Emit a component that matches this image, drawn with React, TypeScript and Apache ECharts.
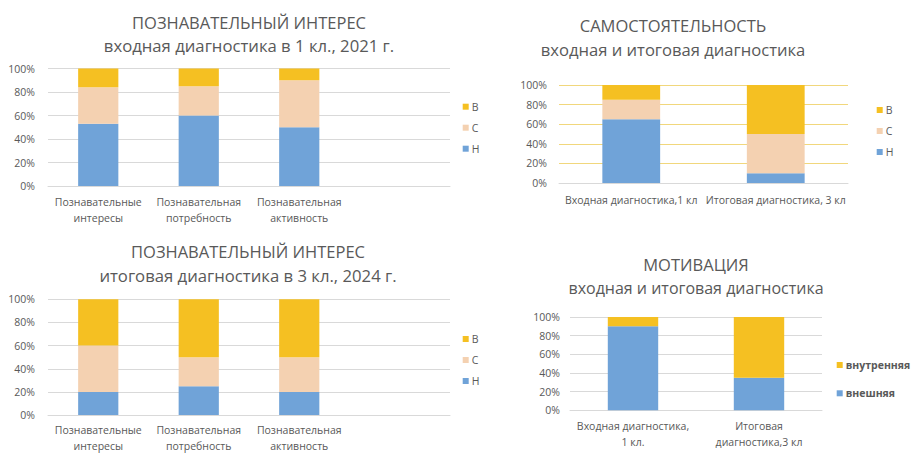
import React, { useEffect, useRef } from "react";
import * as echarts from "echarts";

const levelNames = ["Н", "С", "В"];
const legendOrder = ["В", "С", "Н"];

const cats1 = ["Познавательные\nинтересы", "Познавательная\nпотребность", "Познавательная\nактивность", ""];
const low1 = [53, 60, 50];
const mid1 = [31, 25, 40];
const high1 = [16, 15, 10];

const cats2 = ["Входная диагностика,1 кл", "Итоговая диагностика, 3 кл"];
const low2 = [65, 10];
const mid2 = [20, 40];
const high2 = [15, 50];

const cats3 = ["Познавательные\nинтересы", "Познавательная\nпотребность", "Познавательная\nактивность", ""];
const low3 = [20, 25, 20];
const mid3 = [40, 25, 30];
const high3 = [40, 50, 50];

const cats4 = ["Входная диагностика,\n1 кл.", "Итоговая\nдиагностика,3 кл"];
const motivNames = ["внешняя", "внутренняя"];
const ext4 = [90, 35];
const int4 = [10, 65];

const titles = [
  ["ПОЗНАВАТЕЛЬНЫЙ ИНТЕРЕС", "входная диагностика в 1 кл., 2021 г."],
  ["САМОСТОЯТЕЛЬНОСТЬ", "входная и итоговая диагностика"],
  ["ПОЗНАВАТЕЛЬНЫЙ ИНТЕРЕС", "итоговая диагностика в 3 кл., 2024 г."],
  ["МОТИВАЦИЯ", "входная и итоговая диагностика"],
];

const BLUE = "#70a3d8";
const PEACH = "#f4d1b1";
const GOLD = "#f5c022";
const TEXT = "#595959";
const GRID = "#d9d9d9";
const FONT = "Open Sans";

export default function App() {
  const ref = useRef<HTMLDivElement>(null);
  useEffect(() => {
    if (!ref.current) return;
    const chart = echarts.init(ref.current, null, { renderer: "svg" });

    const grids = [
      { left: 48, right: 466, top: 68.5, bottom: 268 },
      { left: 559, right: 68, top: 85, bottom: 271 },
      { left: 48, right: 466, top: 299.3, bottom: 36.7 },
      { left: 570, right: 94, top: 317, bottom: 43.7 },
    ];
    const catSets = [cats1, cats2, cats3, cats4];
    const labelMargins = [8, 9, 7.5, 8];
    const yMargins = [13, 12, 13, 10];
    const gridColors = [GRID, "#f1d77c", GRID, GRID];

    const xAxis = catSets.map((c, i) => ({
      type: "category",
      gridIndex: i,
      data: c,
      axisTick: { show: false },
      axisLine: { show: true, lineStyle: { color: GRID, width: 1 } },
      axisLabel: {
        interval: 0,
        color: TEXT,
        fontSize: 10.5,
        fontFamily: FONT,
        lineHeight: 15.7,
        margin: labelMargins[i],
      },
    }));
    const yAxis = grids.map((_, i) => ({
      type: "value",
      gridIndex: i,
      min: 0,
      max: 100,
      interval: 20,
      axisLine: { show: false },
      axisTick: { show: false },
      splitLine: { lineStyle: { color: gridColors[i], width: 1 } },
      axisLabel: {
        formatter: "{value}%",
        color: TEXT,
        fontSize: 10.5,
        fontFamily: FONT,
        margin: yMargins[i],
      },
    }));

    const mk = (name: string, data: number[], color: string, idx: number) => ({
      type: "bar",
      name,
      data,
      stack: "s" + idx,
      xAxisIndex: idx,
      yAxisIndex: idx,
      barWidth: "40%",
      itemStyle: { color },
    });

    const series = [
      mk(levelNames[0], low1, BLUE, 0),
      mk(levelNames[1], mid1, PEACH, 0),
      mk(levelNames[2], high1, GOLD, 0),
      mk(levelNames[0], low2, BLUE, 1),
      mk(levelNames[1], mid2, PEACH, 1),
      mk(levelNames[2], high2, GOLD, 1),
      mk(levelNames[0], low3, BLUE, 2),
      mk(levelNames[1], mid3, PEACH, 2),
      mk(levelNames[2], high3, GOLD, 2),
      mk(motivNames[0], ext4, BLUE, 3),
      mk(motivNames[1], int4, GOLD, 3),
    ];

    const legBase = {
      orient: "vertical",
      icon: "rect",
      itemWidth: 6,
      itemHeight: 6,
      itemGap: 7,
      selectedMode: false,
      padding: 0,
      textStyle: { color: TEXT, fontSize: 10.5, fontFamily: FONT, lineHeight: 14, padding: [0, 0, 0, -2] },
    };
    const legend = [
      { ...legBase, data: legendOrder, left: 462.7, top: 99.7 },
      { ...legBase, data: legendOrder, left: 876.7, top: 103 },
      { ...legBase, data: legendOrder, left: 462.7, top: 332 },
      {
        ...legBase,
        data: [motivNames[1], motivNames[0]],
        left: 836.7,
        top: 358,
        itemGap: 14.3,
        textStyle: { ...legBase.textStyle, fontWeight: "bold" },
      },
    ];

    const titlePos = [
      [249, 22, 45],
      [673, 25, 49],
      [248, 251.7, 275],
      [696, 264.3, 287.7],
    ];
    const subSizes = [16.7, 16.6, 16.7, 16];
    const graphic: any[] = [];
    titles.forEach((t, i) => {
      const [x, y1, y2] = titlePos[i];
      [t[0], t[1]].forEach((txt, j) => {
        graphic.push({
          type: "text",
          x,
          y: j === 0 ? y1 : y2,
          style: {
            text: txt,
            fill: TEXT,
            fontSize: j === 0 ? 16.5 : subSizes[i],
            fontFamily: FONT,
            textAlign: "center",
            textVerticalAlign: "middle",
            align: "center",
            verticalAlign: "middle",
          },
        });
      });
    });

    chart.setOption({
      animation: false,
      backgroundColor: "#ffffff",
      grid: grids,
      xAxis,
      yAxis,
      series,
      legend,
      graphic,
    });
    return () => chart.dispose();
  }, []);
  return (
    <div
      ref={ref}
      style={{ position: "absolute", left: 0, top: 0, width: 916, height: 454 }}
    />
  );
}
